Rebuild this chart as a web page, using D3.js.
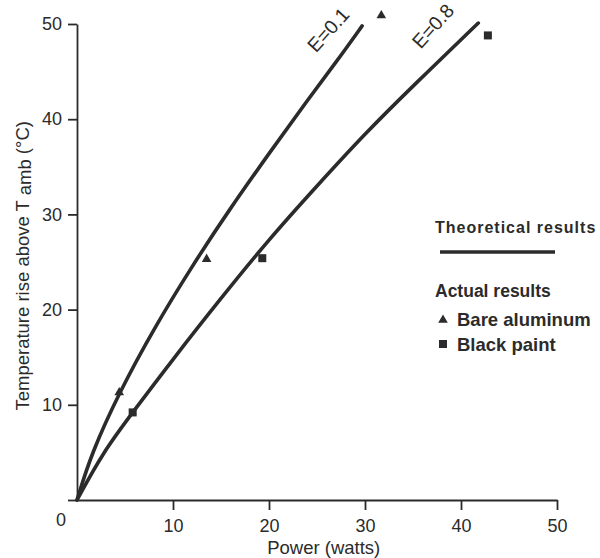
<!DOCTYPE html>
<html>
<head>
<meta charset="utf-8">
<script src="https://cdn.jsdelivr.net/npm/d3@7"></script>
<style>
  html, body { margin: 0; padding: 0; background: #fff; }
  svg { display: block; font-family: "Liberation Sans", Arial, Helvetica, sans-serif; }
</style>
</head>
<body>
<svg id="chart" width="600" height="558"></svg>
<script>
// ---- data ----
const xTicks = [10, 20, 30, 40, 50];
const yTicks = [0, 10, 20, 30, 40, 50];
const curveLabels = ["E=0.1", "E=0.8"];
// theoretical curves [power W, temperature rise °C]
const curveE01 = [[0,0],[1.5,4.9],[4.4,11.3],[8,18.0],[12,24.6],[16,30.7],[20,36.4],[24,42.0],[27,46.0],[29.7,49.8]];
const curveE08 = [[0,0],[2.7,5.0],[5.8,9.2],[10,14.8],[15,21.2],[20,27.4],[25,33.0],[30,38.5],[35,43.5],[41.8,50.1]];
// actual results
const bareAluminum = [[4.4,11.3],[13.5,25.3],[31.7,50.9]];
const blackPaint = [[5.8,9.2],[19.3,25.4],[42.8,48.8]];

const ink = "#2b2b2b";
const svg = d3.select("#chart");
const x = d3.scaleLinear().domain([0, 50]).range([77, 557]);
const y = d3.scaleLinear().domain([0, 50]).range([500, 24]);

// axes
const xAxis = svg.append("g").attr("transform", `translate(0,${y(0)})`)
  .call(d3.axisBottom(x).tickValues(xTicks).tickSizeInner(10).tickSizeOuter(0).tickPadding(9));
const yAxis = svg.append("g").attr("transform", `translate(${x(0)},0)`)
  .call(d3.axisLeft(y).tickValues(yTicks).tickSizeInner(9).tickSizeOuter(0).tickPadding(6)
    .tickFormat(d => d === 0 ? "" : d));
[xAxis, yAxis].forEach(g => {
  g.selectAll("path.domain").attr("stroke", ink).attr("stroke-width", 1.8);
  g.selectAll(".tick line").attr("stroke", ink).attr("stroke-width", 1.8);
  g.selectAll(".tick text").attr("fill", ink).style("font-size", "18px")
   .style("font-family", '"Liberation Sans", Arial, sans-serif');
});
// shared origin label
svg.append("text").attr("x", x(0) - 16).attr("y", y(0) + 26)
  .attr("text-anchor", "middle").attr("fill", ink).style("font-size", "18px").text("0");

// axis titles
svg.append("text")
  .attr("x", x(25.7)).attr("y", 554)
  .attr("text-anchor", "middle").attr("fill", ink).style("font-size", "18.5px")
  .text("Power (watts)");
const yt = svg.append("text")
  .attr("transform", `translate(29,${y(24.6)}) rotate(-90)`)
  .attr("text-anchor", "middle").attr("fill", ink).style("font-size", "18.5px");
yt.append("tspan").text("Temperature rise above T ");
yt.append("tspan").attr("dy", 2).text("amb");
yt.append("tspan").attr("dy", -2).text(" (°C)");

// curves
const line = d3.line().x(d => x(d[0])).y(d => y(d[1])).curve(d3.curveBasis);
[curveE01, curveE08].forEach(c => {
  svg.append("path").datum(c).attr("d", line)
    .attr("fill", "none").attr("stroke", ink).attr("stroke-width", 3.6)
    .attr("stroke-linecap", "round");
});

// curve labels
const labelPos = [[26.7, 48.9], [37.6, 49.3]];
curveLabels.forEach((t, i) => {
  svg.append("text")
    .attr("transform", `translate(${x(labelPos[i][0])},${y(labelPos[i][1])}) rotate(-48)`)
    .attr("text-anchor", "middle").attr("fill", ink).style("font-size", "19.5px")
    .text(t);
});

// markers
const tri = d3.symbol().type(d3.symbolTriangle).size(40);
svg.append("g").selectAll("path").data(bareAluminum).join("path")
  .attr("transform", d => `translate(${x(d[0])},${y(d[1])})`)
  .attr("d", tri).attr("fill", ink);
svg.append("g").selectAll("rect").data(blackPaint).join("rect")
  .attr("x", d => x(d[0]) - 4).attr("y", d => y(d[1]) - 4)
  .attr("width", 8).attr("height", 8).attr("fill", ink);

// legend
const lg = svg.append("g");
lg.append("text").attr("x", 435).attr("y", 233).attr("fill", ink)
  .style("font-size", "16px").style("font-weight", "bold").style("letter-spacing", "1px")
  .text("Theoretical results");
lg.append("line").attr("x1", 440).attr("x2", 555).attr("y1", 252).attr("y2", 252)
  .attr("stroke", ink).attr("stroke-width", 3.6);
lg.append("text").attr("x", 435).attr("y", 297).attr("fill", ink)
  .style("font-size", "17.5px").style("font-weight", "bold")
  .text("Actual results");
lg.append("path").attr("transform", "translate(443,320)").attr("d", tri).attr("fill", ink);
lg.append("text").attr("x", 457).attr("y", 326).attr("fill", ink)
  .style("font-size", "18.5px").style("font-weight", "bold")
  .text("Bare aluminum");
lg.append("rect").attr("x", 439).attr("y", 340).attr("width", 8).attr("height", 8).attr("fill", ink);
lg.append("text").attr("x", 457).attr("y", 351).attr("fill", ink)
  .style("font-size", "18.5px").style("font-weight", "bold")
  .text("Black paint");
</script>
</body>
</html>
